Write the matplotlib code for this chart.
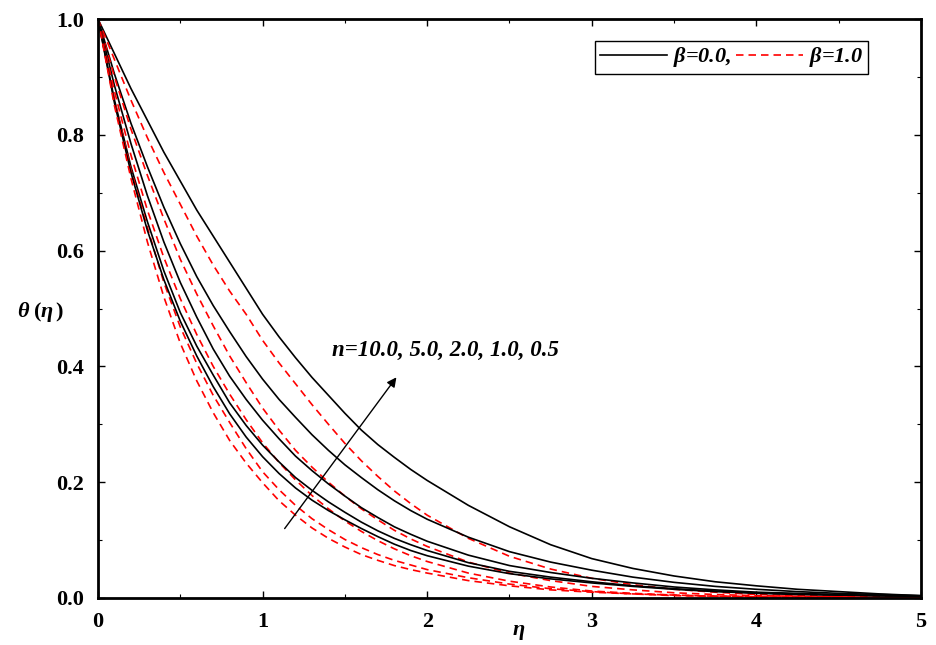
import matplotlib
matplotlib.use('Agg')
import matplotlib.pyplot as plt
from matplotlib.lines import Line2D
from matplotlib.ticker import MultipleLocator

plt.rcParams['font.family'] = ['Liberation Serif', 'DejaVu Serif']
plt.rcParams['mathtext.fontset'] = 'custom'
plt.rcParams['mathtext.it'] = 'Liberation Serif:italic:bold'
plt.rcParams['mathtext.rm'] = 'Liberation Serif:bold'

eta = [0, 0.1, 0.2, 0.3, 0.4, 0.5, 0.6, 0.7, 0.8, 0.9,
       1.0, 1.1, 1.2, 1.3, 1.4, 1.5, 1.6, 1.7, 1.8, 1.9,
       2.0, 2.25, 2.5, 2.75, 3.0, 3.25, 3.5, 3.75, 4.0, 4.25, 4.5, 4.75, 5.0]

n_values = ['0.5', '1.0', '2.0', '5.0', '10.0']

# temperature profiles, beta = 0.0
theta_b0 = {
    '0.5':  [1.0, 0.94, 0.88, 0.825, 0.77, 0.72, 0.67, 0.625, 0.58, 0.535,
             0.49, 0.451, 0.415, 0.381, 0.35, 0.319, 0.29, 0.265, 0.243, 0.222,
             0.203, 0.16, 0.123, 0.092, 0.068, 0.051, 0.038, 0.028, 0.021, 0.015, 0.011, 0.007, 0.004],
    '1.0':  [1.0, 0.905, 0.82, 0.745, 0.675, 0.612, 0.555, 0.505, 0.46, 0.417,
             0.378, 0.343, 0.312, 0.282, 0.255, 0.23, 0.208, 0.187, 0.168, 0.151,
             0.136, 0.105, 0.08, 0.062, 0.048, 0.036, 0.027, 0.02, 0.015, 0.011, 0.008, 0.006, 0.004],
    '2.0':  [1.0, 0.885, 0.785, 0.695, 0.615, 0.545, 0.485, 0.43, 0.383, 0.343,
             0.307, 0.275, 0.245, 0.22, 0.197, 0.176, 0.156, 0.139, 0.123, 0.11,
             0.098, 0.074, 0.056, 0.044, 0.034, 0.026, 0.019, 0.014, 0.01, 0.008, 0.006, 0.004, 0.003],
    '5.0':  [1.0, 0.86, 0.745, 0.65, 0.565, 0.493, 0.435, 0.385, 0.337, 0.298,
             0.264, 0.235, 0.208, 0.186, 0.166, 0.148, 0.131, 0.116, 0.103, 0.092,
             0.082, 0.061, 0.046, 0.036, 0.028, 0.021, 0.016, 0.012, 0.009, 0.007, 0.005, 0.004, 0.003],
    '10.0': [1.0, 0.855, 0.735, 0.635, 0.55, 0.478, 0.418, 0.365, 0.318, 0.278,
             0.244, 0.215, 0.19, 0.169, 0.151, 0.135, 0.12, 0.106, 0.093, 0.082,
             0.073, 0.055, 0.042, 0.033, 0.026, 0.02, 0.015, 0.011, 0.008, 0.006, 0.005, 0.004, 0.003],
}

# temperature profiles, beta = 1.0
theta_b1 = {
    '0.5':  [1.0, 0.93, 0.86, 0.795, 0.735, 0.68, 0.625, 0.575, 0.53, 0.49,
             0.445, 0.406, 0.37, 0.334, 0.3, 0.267, 0.237, 0.21, 0.185, 0.163,
             0.143, 0.103, 0.072, 0.05, 0.034, 0.023, 0.015, 0.01, 0.006, 0.004, 0.003, 0.002, 0.002],
    '1.0':  [1.0, 0.9, 0.81, 0.73, 0.655, 0.585, 0.525, 0.47, 0.418, 0.372,
             0.328, 0.29, 0.255, 0.226, 0.2, 0.176, 0.154, 0.135, 0.117, 0.102,
             0.089, 0.062, 0.043, 0.03, 0.02, 0.014, 0.009, 0.006, 0.004, 0.003, 0.002, 0.001, 0.001],
    '2.0':  [1.0, 0.875, 0.765, 0.67, 0.588, 0.517, 0.455, 0.4, 0.352, 0.308,
             0.268, 0.234, 0.204, 0.177, 0.154, 0.133, 0.115, 0.099, 0.085, 0.073,
             0.063, 0.043, 0.029, 0.019, 0.012, 0.008, 0.005, 0.003, 0.002, 0.001, 0.001, 0.0, 0.0],
    '5.0':  [1.0, 0.86, 0.74, 0.64, 0.545, 0.468, 0.405, 0.35, 0.303, 0.258,
             0.218, 0.187, 0.16, 0.137, 0.118, 0.101, 0.087, 0.075, 0.065, 0.057,
             0.049, 0.035, 0.024, 0.016, 0.011, 0.007, 0.005, 0.003, 0.002, 0.001, 0.001, 0.0, 0.0],
    '10.0': [1.0, 0.85, 0.725, 0.615, 0.52, 0.44, 0.375, 0.32, 0.272, 0.233,
             0.199, 0.168, 0.143, 0.121, 0.103, 0.088, 0.075, 0.065, 0.056, 0.049,
             0.043, 0.03, 0.021, 0.014, 0.01, 0.007, 0.004, 0.003, 0.002, 0.001, 0.001, 0.0, 0.0],
}

fig = plt.figure(figsize=(9.37, 6.45), dpi=100)
ax = fig.add_axes([0.1046, 0.0729, 0.8783, 0.8976])

dash = (0, (4.5, 3))
for n in n_values:
    ax.plot(eta, theta_b0[n], color='black', lw=1.2)
    ax.plot(eta, theta_b1[n], color='red', lw=1.2, linestyle=dash)

ax.set_xlim(0, 5)
ax.set_ylim(0, 1)
ax.xaxis.set_major_locator(MultipleLocator(1))
ax.xaxis.set_minor_locator(MultipleLocator(0.5))
ax.yaxis.set_major_locator(MultipleLocator(0.2))
ax.yaxis.set_minor_locator(MultipleLocator(0.1))
ax.set_xticks(range(6))
ax.set_xticklabels([str(i) for i in range(6)])
ax.set_yticks([0, 0.2, 0.4, 0.6, 0.8, 1.0])
ax.set_yticklabels(['0.0', '0.2', '0.4', '0.6', '0.8', '1.0'])
ax.tick_params(which='both', direction='in', top=True, right=True)
ax.tick_params(which='major', length=5, width=1, labelsize=16, pad=10)
ax.tick_params(which='minor', length=3, width=0.8)
for lab in ax.get_xticklabels() + ax.get_yticklabels():
    lab.set_fontweight('bold')
for sp in ax.spines.values():
    sp.set_linewidth(2)

fig.text(0.043, 0.517, r'$\theta\;(\eta\,)$', fontsize=16, ha='center', va='center')
fig.text(0.553, 0.02, r'$\eta$', fontsize=16, ha='center', va='center')

ax.annotate('', xy=(1.823, 0.385), xytext=(1.124, 0.116),
            arrowprops=dict(arrowstyle='-|>', color='black', lw=1, mutation_scale=14))
ax.text(2.11, 0.428, 'n=10.0, 5.0, 2.0, 1.0, 0.5', fontsize=16.5, fontweight='bold',
        fontstyle='italic', ha='center', va='center')

handles = [Line2D([], [], color='black', lw=1.2),
           Line2D([], [], color='red', lw=1.2, linestyle=dash)]
leg = ax.legend(handles, [r'$\beta$=0.0,', r'$\beta$=1.0'], ncol=2,
                loc='upper right', bbox_to_anchor=(0.9356, 0.962),
                fancybox=False, edgecolor='black', framealpha=1,
                handlelength=3.0, columnspacing=0.2, handletextpad=0.3,
                borderpad=0.2, borderaxespad=0,
                prop=dict(size=16, weight='bold', style='italic'))
leg.get_frame().set_linewidth(1)

fig.savefig('out.png', dpi=100)
